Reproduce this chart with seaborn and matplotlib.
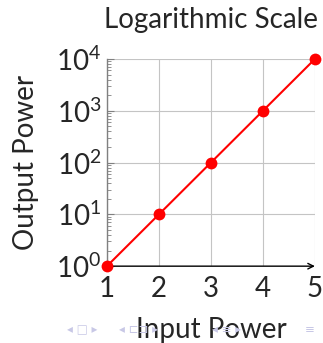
import matplotlib
matplotlib.use("Agg")
import matplotlib.pyplot as plt
import seaborn as sns
import pandas as pd
from matplotlib.ticker import LogLocator, FixedLocator

input_power = [1, 2, 3, 4, 5]
output_power = [1, 10, 100, 1000, 10000]
x_ticks = [1, 2, 3, 4, 5]
y_ticks = [1, 10, 100, 1000, 10000]
y_tick_labels = [r"$\mathregular{10^{0}}$", r"$\mathregular{10^{1}}$", r"$\mathregular{10^{2}}$",
                 r"$\mathregular{10^{3}}$", r"$\mathregular{10^{4}}$"]

sns.set_style("white")
plt.rcParams["font.family"] = ["Lato", "DejaVu Sans"]
plt.rcParams["mathtext.fontset"] = "custom"
plt.rcParams["mathtext.rm"] = "Lato"

df = pd.DataFrame({"Input Power": input_power, "Output Power": output_power})

fig = plt.figure(figsize=(3.23, 3.43), dpi=100)
ax = fig.add_axes([0.331, 0.224, 0.644, 0.604])

sns.lineplot(data=df, x="Input Power", y="Output Power", ax=ax, color="#ff0000",
             linewidth=1.5, marker="o", markersize=8.5, markeredgewidth=0,
             clip_on=False, zorder=5)
ax.set_yscale("log")
ax.set_xlim(1, 5)
ax.set_ylim(1, 10000)
ax.xaxis.set_major_locator(FixedLocator(x_ticks))
ax.set_xticklabels([str(v) for v in x_ticks])
ax.yaxis.set_major_locator(FixedLocator(y_ticks))
ax.set_yticklabels(y_tick_labels)
ax.yaxis.set_minor_locator(LogLocator(base=10, subs=range(2, 10), numticks=20))

ax.grid(True, which="major", color="#c4c4c4", linewidth=0.8)
ax.set_axisbelow(True)
for s in ["top", "right"]:
    ax.spines[s].set_visible(False)
ax.spines["left"].set_color("#808080")
ax.spines["left"].set_linewidth(1.0)
ax.spines["bottom"].set_visible(False)

ax.tick_params(axis="x", which="major", direction="out", length=4, color="#a0a0a0",
               labelsize=20, pad=3)
ax.tick_params(axis="y", which="major", direction="in", length=5, color="#808080",
               labelsize=20, pad=4, left=True)
ax.tick_params(axis="y", which="minor", direction="in", length=3, color="#808080", left=True)

ax.annotate("", xy=(1.0, 0), xytext=(0, 0), xycoords="axes fraction",
            arrowprops=dict(arrowstyle="->", color="black", lw=1.0,
                            shrinkA=0, shrinkB=0), zorder=4)

ax.set_xlabel("Input Power", fontsize=20, labelpad=11)
ax.set_ylabel("Output Power", fontsize=20, labelpad=12)
ax.set_title("Logarithmic Scale", fontsize=20, pad=22, x=0.5)

nav_color = "#c8c8e6"
nav = [(0.253, "◂ □ ▸"), (0.43, "◂ ⊏⊐ ▸"), (0.70, "◂ ≡ ▸"), (0.96, "≡")]
for xf, txt in nav:
    fig.text(xf, 0.038, txt, fontsize=8.5, color=nav_color, ha="center", va="center",
             family=["DejaVu Sans"], zorder=0)

fig.savefig("out.png", dpi=100)
